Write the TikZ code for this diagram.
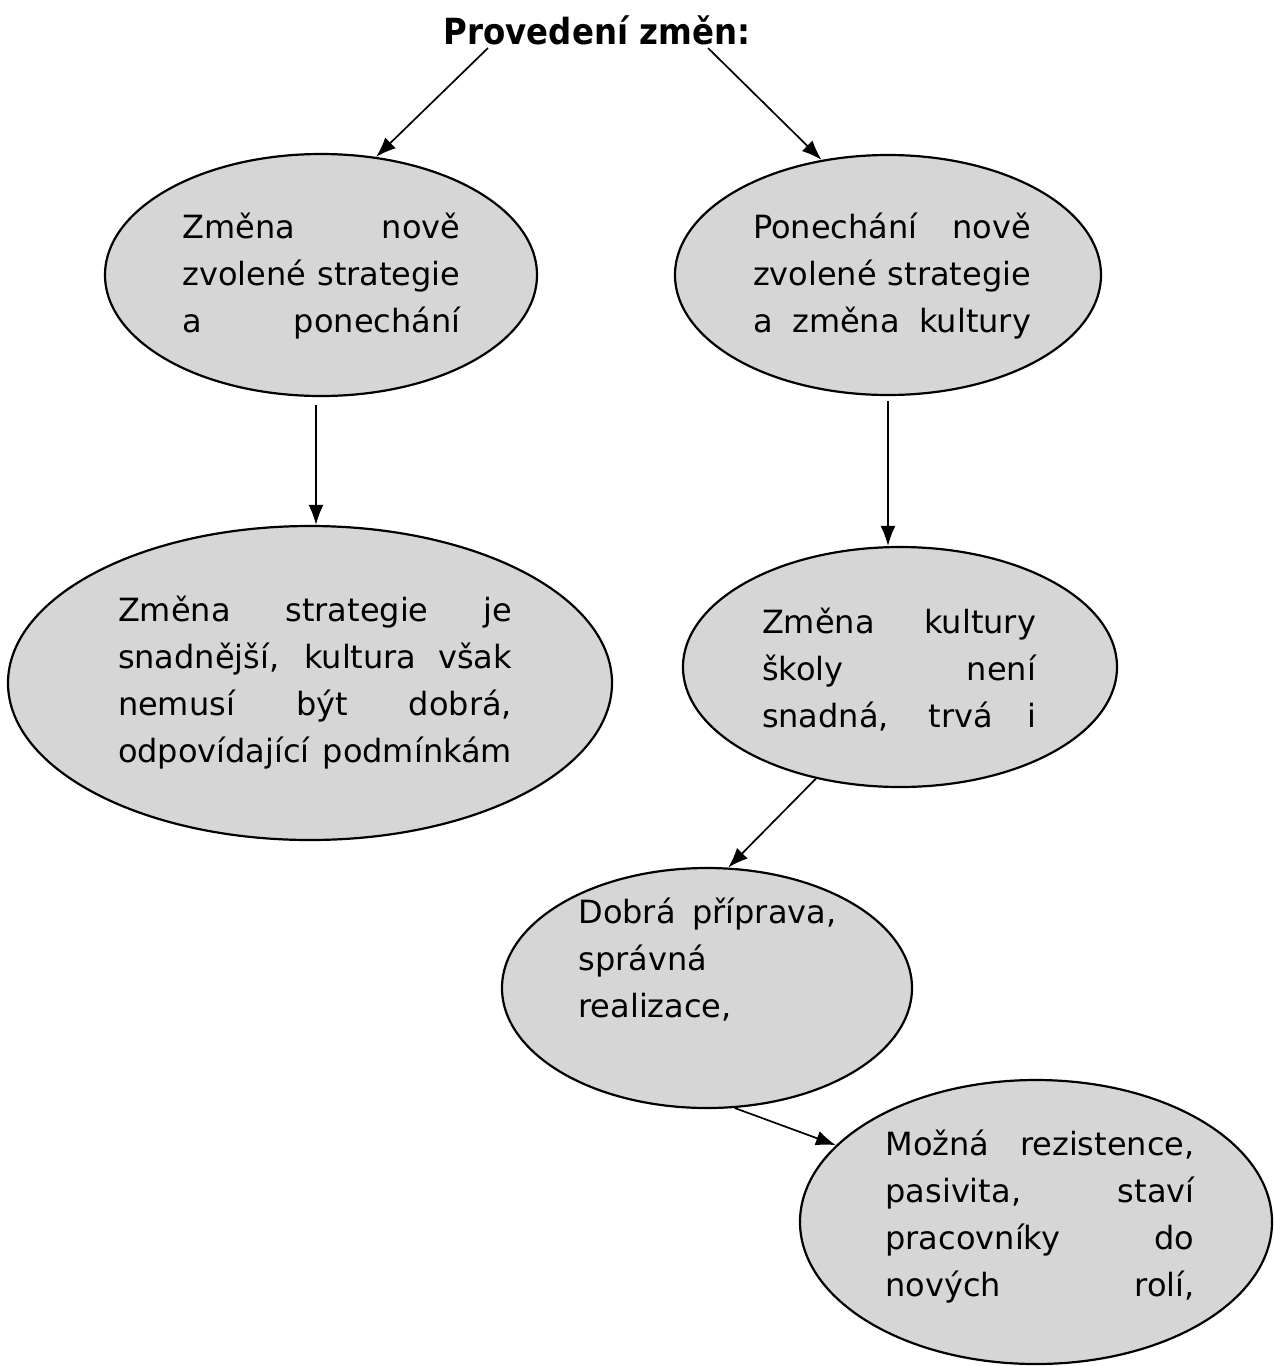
\documentclass[tikz,border=0pt]{standalone}
\usepackage{fontspec}
\setmainfont{DejaVu Sans}
\newfontfamily\titlefont[FakeStretch=0.9]{DejaVu Sans}
\usetikzlibrary{shapes.geometric,arrows.meta,calc}
\definecolor{ellfill}{RGB}{214,214,214}
\newcommand{\jl}[2]{\makebox[#1][s]{#2}}
\begin{document}
\begin{tikzpicture}[x=0.5pt,y=-0.5pt,
  ell/.style={ellipse,draw=black,line width=1.1pt,fill=ellfill,inner sep=0pt},
  txt/.style={inner sep=0pt,align=left,font=\fontsize{16}{23.5}\selectfont},
  arr/.style={line width=0.85pt,-{Latex[length=10pt,width=7.5pt]}},
  ttl/.style={inner sep=0pt,font=\titlefont\bfseries\fontsize{18}{20}\selectfont}]
\useasboundingbox (0,0) rectangle (1274,1366);
\fill[white] (0,0) rectangle (1274,1366);
% title
\node[ttl] (title) at (597,30) {Provedení změn:};
% ellipses
\node[ell,minimum width=216pt,minimum height=121pt] (e1) at (321,275) {};
\node[ell,minimum width=213pt,minimum height=120pt] (e2) at (888,275) {};
\node[ell,minimum width=302pt,minimum height=157pt] (e3) at (310,683) {};
\node[ell,minimum width=217pt,minimum height=120pt] (e4) at (900,667) {};
\node[ell,minimum width=205pt,minimum height=120pt] (e5) at (707,988) {};
\node[ell,minimum width=236pt,minimum height=142pt] (e6) at (1036,1222) {};
% texts
\node[txt] (t1) at (321.5,276) {\jl{139pt}{Změna nově}\\\jl{139pt}{zvolené strategie}\\\jl{139pt}{a ponechání}};
\node[txt] (t2) at (892,276) {\jl{139pt}{Ponechání nově}\\\jl{139pt}{zvolené strategie}\\\jl{139pt}{a změna kultury}};
\node[txt] (t3) at (315,683) {\jl{197pt}{Změna strategie je}\\\jl{197pt}{snadnější, kultura však}\\\jl{197pt}{nemusí být dobrá,}\\\jl{197pt}{odpovídající podmínkám}};
\node[txt] (t4) at (899,670) {\jl{137pt}{Změna kultury}\\\jl{137pt}{školy není}\\\jl{137pt}{snadná, trvá i}};
\node[txt,anchor=west] (t5) at (578,960) {\jl{129pt}{Dobrá příprava,}\\správná\\realizace,};
\node[txt] (t6) at (1040,1217) {\jl{154.5pt}{Možná rezistence,}\\\jl{154.5pt}{pasivita, staví}\\\jl{154.5pt}{pracovníky do}\\\jl{154.5pt}{nových rolí,}};
% connector free ends
\coordinate (s1) at (488,48);
\coordinate (s2) at (708,48);
\coordinate (s3) at (316,405);
\coordinate (s4) at (888,401);
% connectors
\draw[arr] (s1) -- (e1.65);
\draw[arr] (s2) -- (e2.120);
\draw[arr] (s3) -- (s3 |- e3.north);
\draw[arr] (s4) -- (s4 |- e4.north);
\draw[arr] (e4.233) -- (e5.80);
\draw[arr] (e5.283) -- (e6.159);
\end{tikzpicture}
\end{document}
